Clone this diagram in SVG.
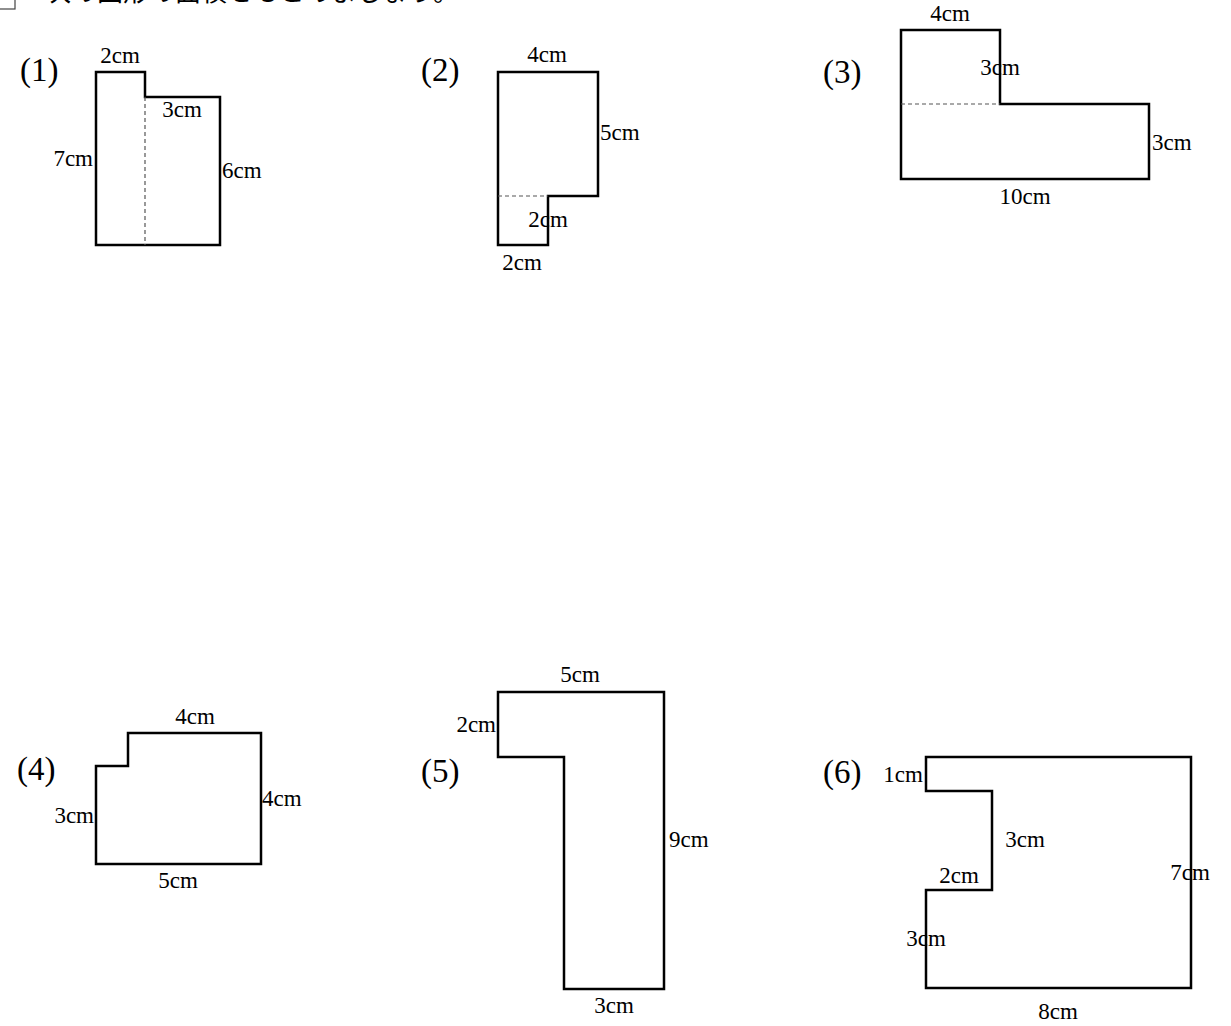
<svg xmlns="http://www.w3.org/2000/svg" width="1231" height="1026" viewBox="0 0 1231 1026">
<style>
.bg{fill:#ffffff}
.shape{fill:none;stroke:#000;stroke-width:2.5;stroke-linejoin:miter}
.dash{fill:none;stroke:#555;stroke-width:1.2;stroke-dasharray:4 3}
.lbl{font-family:"Liberation Serif","DejaVu Serif",serif;font-size:23px;fill:#000}
.num{font-family:"Liberation Serif","DejaVu Serif",serif;font-size:33px;fill:#000}
.head{font-family:"Noto Sans CJK JP","Noto Sans",sans-serif;font-size:26px;fill:#000}
.m{text-anchor:middle}
.e{text-anchor:end}
</style>
<rect class="bg" x="0" y="0" width="1231" height="1026"/>
<g id="header">
<rect x="-12" y="-20" width="27" height="29" fill="none" stroke="#444" stroke-width="1.2"/>
<text class="head" x="45" y="1">次の図形の面積をもとめましょう。</text>
</g>
<g id="fig1">
<text class="num" x="20" y="81">(1)</text>
<path class="shape" d="M96,72 H145 V97 H220 V245 H96 Z"/>
<line class="dash" x1="145" y1="97" x2="145" y2="245"/>
<text class="lbl m" x="120" y="63">2cm</text>
<text class="lbl m" x="182" y="117">3cm</text>
<text class="lbl e" x="93" y="166">7cm</text>
<text class="lbl" x="222" y="178">6cm</text>
</g>
<g id="fig2">
<text class="num" x="421" y="81">(2)</text>
<path class="shape" d="M498,72 H598 V196 H548 V245 H498 Z"/>
<line class="dash" x1="498" y1="196" x2="548" y2="196"/>
<text class="lbl m" x="547" y="62">4cm</text>
<text class="lbl" x="600" y="140">5cm</text>
<text class="lbl m" x="548" y="227">2cm</text>
<text class="lbl m" x="522" y="270">2cm</text>
</g>
<g id="fig3">
<text class="num" x="823" y="83">(3)</text>
<path class="shape" d="M901,30 H1000 V104 H1149 V179 H901 Z"/>
<line class="dash" x1="901" y1="104" x2="1000" y2="104"/>
<text class="lbl m" x="950" y="21">4cm</text>
<text class="lbl m" x="1000" y="75">3cm</text>
<text class="lbl" x="1152" y="150">3cm</text>
<text class="lbl m" x="1025" y="204">10cm</text>
</g>
<g id="fig4">
<text class="num" x="17" y="780">(4)</text>
<path class="shape" d="M96,766 H128 V733 H261 V864 H96 Z"/>
<text class="lbl m" x="195" y="724">4cm</text>
<text class="lbl e" x="94" y="823">3cm</text>
<text class="lbl" x="262" y="806">4cm</text>
<text class="lbl m" x="178" y="888">5cm</text>
</g>
<g id="fig5">
<text class="num" x="421" y="782">(5)</text>
<path class="shape" d="M498,692 H664 V989 H564 V757 H498 Z"/>
<text class="lbl m" x="580" y="682">5cm</text>
<text class="lbl e" x="496" y="732">2cm</text>
<text class="lbl" x="669" y="847">9cm</text>
<text class="lbl m" x="614" y="1013">3cm</text>
</g>
<g id="fig6">
<text class="num" x="823" y="783">(6)</text>
<path class="shape" d="M926,757 H1191 V988 H926 V890 H992 V791 H926 Z"/>
<text class="lbl m" x="903" y="782">1cm</text>
<text class="lbl m" x="1025" y="847">3cm</text>
<text class="lbl m" x="959" y="883">2cm</text>
<text class="lbl m" x="1190" y="880">7cm</text>
<text class="lbl m" x="926" y="946">3cm</text>
<text class="lbl m" x="1058" y="1019">8cm</text>
</g>
</svg>
